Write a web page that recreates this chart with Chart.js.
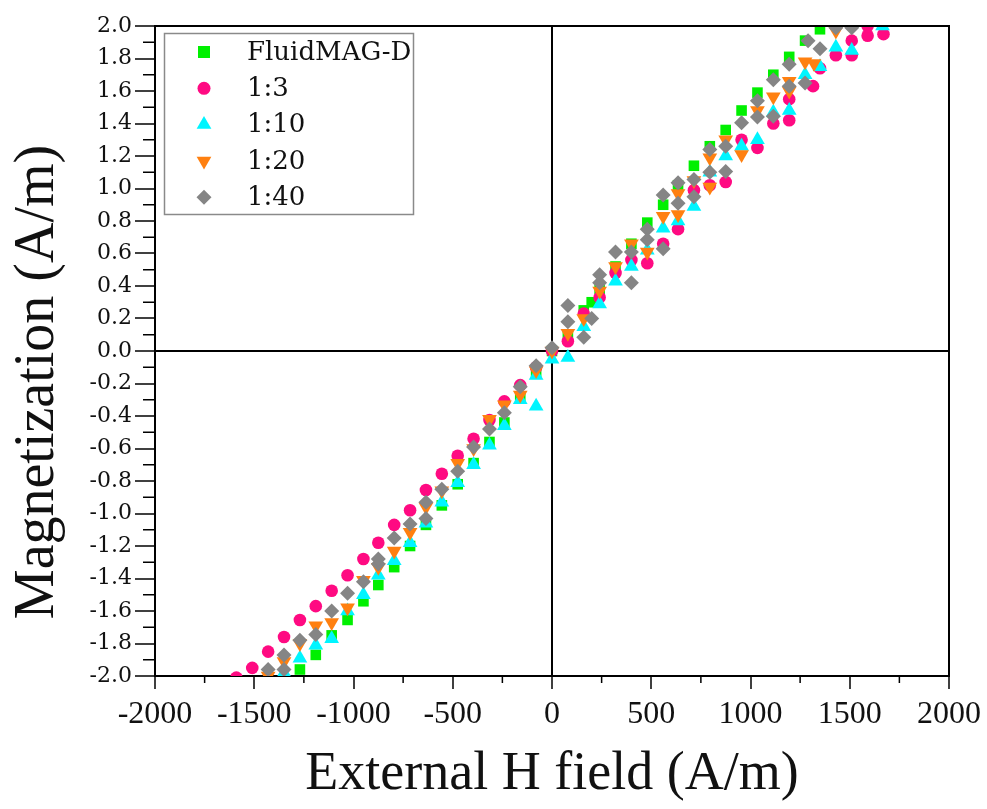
<!DOCTYPE html>
<html>
<head>
    <meta charset="utf-8">
    <title>Magnetization vs External H field</title>
    <script src="https://cdn.jsdelivr.net/npm/chart.js"></script>
    <style>
        html, body { margin: 0; padding: 0; background: #fff; }
        canvas { display: block; }
    </style>
</head>
<body>
    <canvas id="chart" width="987" height="809"></canvas>

    <script>
        // series names (legend order)
        const seriesNames = ['FluidMAG-D', '1:3', '1:10', '1:20', '1:40'];

        // FluidMAG-D
        const fluidH = [-1350, -1270, -1190, -1110, -1030, -950, -875, -795, -715, -635, -555, -475, -395, -315, -240, -160, -80, 0,
            80, 160, 200, 240, 320, 400, 480, 560, 635, 715, 795, 875, 955, 1035, 1115, 1195, 1275, 1350];
        const fluidM = [-2.04, -1.96, -1.87, -1.75, -1.655, -1.54, -1.44, -1.33, -1.20, -1.07, -0.95, -0.82, -0.69, -0.56, -0.44, -0.29, -0.14, 0.0,
            0.10, 0.25, 0.30, 0.38, 0.52, 0.66, 0.79, 0.90, 1.02, 1.14, 1.26, 1.36, 1.48, 1.59, 1.70, 1.81, 1.91, 1.98];

        // 1:3
        const r3H = [-1590, -1510, -1430, -1350, -1270, -1190, -1110, -1030, -950, -875, -795, -715, -635, -555, -475, -395, -315, -240, -160, -80, 0,
            80, 160, 240, 320, 400, 480, 560, 635, 715, 795, 875, 955, 1035, 1115, 1195, 1195, 1315, 1350, 1430, 1510, 1510, 1590, 1590, 1670];
        const r3M = [-2.01, -1.95, -1.85, -1.76, -1.655, -1.57, -1.475, -1.38, -1.28, -1.18, -1.07, -0.98, -0.855, -0.755, -0.645, -0.54, -0.425, -0.31, -0.21, -0.10, 0.0,
            0.06, 0.23, 0.33, 0.48, 0.56, 0.54, 0.66, 0.75, 0.99, 1.02, 1.04, 1.30, 1.25, 1.40, 1.42, 1.55, 1.63, 1.74, 1.82, 1.91, 1.82, 1.94, 2.0, 1.95];

        // 1:10
        const r10H = [-1430, -1350, -1270, -1190, -1110, -1030, -950, -875, -795, -715, -635, -555, -475, -395, -315, -240, -160, -80, -80, 0,
            80, 160, 240, 320, 400, 480, 560, 635, 715, 795, 875, 955, 1035, 1115, 1195, 1275, 1350, 1430, 1510, 1665];
        const r10M = [-2.02, -1.98, -1.89, -1.81, -1.77, -1.60, -1.50, -1.38, -1.29, -1.18, -1.06, -0.93, -0.81, -0.70, -0.58, -0.46, -0.30, -0.34, -0.15, -0.05,
            -0.04, 0.15, 0.29, 0.43, 0.52, 0.62, 0.755, 0.80, 0.89, 1.10, 1.20, 1.26, 1.30, 1.47, 1.48, 1.70, 1.75, 1.87, 1.85, 2.0];

        // 1:20
        const r20H = [-1430, -1350, -1270, -1190, -1110, -1030, -950, -875, -795, -715, -635, -555, -475, -395, -315, -240, -160, -80, 0,
            80, 160, 240, 320, 400, 480, 560, 635, 635, 715, 795, 795, 875, 955, 1035, 1115, 1195, 1195, 1275, 1320, 1430];
        const r20M = [-2.0, -1.91, -1.80, -1.69, -1.67, -1.58, -1.41, -1.33, -1.23, -1.115, -0.96, -0.86, -0.69, -0.60, -0.42, -0.33, -0.27, -0.12, 0.0,
            0.11, 0.20, 0.37, 0.52, 0.66, 0.61, 0.83, 0.97, 0.84, 1.05, 1.19, 1.01, 1.30, 1.21, 1.48, 1.565, 1.60, 1.66, 1.78, 1.77, 1.97];

        // 1:40
        const r40H = [-1430, -1350, -1350, -1270, -1190, -1110, -1030, -950, -875, -875, -795, -715, -635, -635, -555, -475, -395, -315, -240, -160, -80, 0,
            80, 80, 160, 200, 240, 240, 320, 400, 400, 480, 480, 560, 560, 635, 635, 715, 715, 795, 795, 875, 875, 955, 1035, 1035, 1115, 1115,
            1195, 1195, 1275, 1290, 1350, 1430, 1510];
        const r40M = [-1.96, -1.87, -1.96, -1.78, -1.745, -1.60, -1.49, -1.42, -1.31, -1.28, -1.15, -1.065, -0.93, -1.03, -0.85, -0.74, -0.59, -0.48, -0.38, -0.22, -0.09, 0.02,
            0.28, 0.18, 0.085, 0.20, 0.47, 0.42, 0.61, 0.61, 0.42, 0.75, 0.685, 0.63, 0.96, 1.035, 0.91, 1.055, 0.95, 1.24, 1.10, 1.26, 1.105, 1.405, 1.54, 1.44, 1.67, 1.445,
            1.765, 1.63, 1.65, 1.91, 1.86, 1.99, 1.99];

        // axis ticks
        const xTickValues = [-2000, -1500, -1000, -500, 0, 500, 1000, 1500, 2000];
        const xMinorValues = [-1750, -1250, -750, -250, 250, 750, 1250, 1750];
        const yTickValues = [-2.0, -1.8, -1.6, -1.4, -1.2, -1.0, -0.8, -0.6, -0.4, -0.2, 0.0, 0.2, 0.4, 0.6, 0.8, 1.0, 1.2, 1.4, 1.6, 1.8, 2.0];
        const yMinorValues = [-1.9, -1.7, -1.5, -1.3, -1.1, -0.9, -0.7, -0.5, -0.3, -0.1, 0.1, 0.3, 0.5, 0.7, 0.9, 1.1, 1.3, 1.5, 1.7, 1.9];

        function toPoints(hs, ms) {
            return hs.map((h, i) => ({ x: h, y: ms[i] }));
        }

        // frame, minor ticks, y title and the boxed legend
        const decorPlugin = {
            id: 'decor',
            afterDraw(chart) {
                const ctx = chart.ctx;
                const area = chart.chartArea;
                const xs = chart.scales.x;
                const ys = chart.scales.y;
                ctx.save();

                // top and right frame
                ctx.strokeStyle = '#000';
                ctx.lineWidth = 2;
                ctx.beginPath();
                ctx.moveTo(area.left, area.top);
                ctx.lineTo(area.right, area.top);
                ctx.lineTo(area.right, area.bottom);
                ctx.stroke();

                // minor ticks
                ctx.lineWidth = 1.5;
                ctx.beginPath();
                xMinorValues.forEach(v => {
                    const px = xs.getPixelForValue(v);
                    ctx.moveTo(px, area.bottom);
                    ctx.lineTo(px, area.bottom + 7);
                });
                yMinorValues.forEach(v => {
                    const py = ys.getPixelForValue(v);
                    ctx.moveTo(area.left - 12, py);
                    ctx.lineTo(area.left, py);
                });
                ctx.stroke();

                // y axis title
                ctx.save();
                ctx.translate(38, 382);
                ctx.rotate(-Math.PI / 2);
                ctx.fillStyle = '#111';
                ctx.font = '56px "Liberation Serif"';
                ctx.textAlign = 'center';
                ctx.textBaseline = 'middle';
                ctx.fillText('Magnetization (A/m)', 0, 0);
                ctx.restore();

                // legend box
                ctx.strokeStyle = '#8a8a8a';
                ctx.lineWidth = 1.5;
                ctx.strokeRect(164.5, 33.5, 249, 181);
                const legendRadius = [8.5, 6.5, 8.5, 8.5, 7.5];
                chart.data.datasets.forEach((ds, i) => {
                    const y = 52 + i * 36.3;
                    ctx.fillStyle = ds.backgroundColor;
                    Chart.helpers.drawPoint(ctx, {
                        pointStyle: ds.pointStyle,
                        radius: legendRadius[i],
                        rotation: ds.pointRotation || 0,
                        borderWidth: 0
                    }, 204, y);
                    ctx.fillStyle = '#111';
                    ctx.font = '26px "DejaVu Serif"';
                    ctx.textAlign = 'left';
                    ctx.textBaseline = 'middle';
                    ctx.fillText(ds.label, 247, y + 1);
                });
                ctx.restore();
            }
        };

        const datasets = [
            { label: seriesNames[0], data: toPoints(fluidH, fluidM), pointStyle: 'rect', pointRadius: 7.5, backgroundColor: '#00f000', order: 5 },
            { label: seriesNames[1], data: toPoints(r3H, r3M), pointStyle: 'circle', pointRadius: 6.3, backgroundColor: '#ff0a82', order: 4 },
            { label: seriesNames[2], data: toPoints(r10H, r10M), pointStyle: 'triangle', pointRadius: 8.5, backgroundColor: '#00f5ff', order: 3 },
            { label: seriesNames[3], data: toPoints(r20H, r20M), pointStyle: 'triangle', pointRotation: 180, pointRadius: 8.5, backgroundColor: '#ff8010', order: 2 },
            { label: seriesNames[4], data: toPoints(r40H, r40M), pointStyle: 'rectRot', pointRadius: 7.5, backgroundColor: '#858585', order: 1 }
        ];
        datasets.forEach(ds => {
            ds.pointBorderWidth = 0;
            ds.borderWidth = 0;
            ds.pointHoverRadius = ds.pointRadius;
            ds.clip = 0;
        });

        const zeroLine = c => (c.tick && Math.abs(c.tick.value) < 1e-9) ? '#000' : 'rgba(0,0,0,0)';

        const ctx = document.getElementById('chart').getContext('2d');
        const chart = new Chart(ctx, {
            type: 'scatter',
            data: { datasets: datasets },
            options: {
                responsive: false,
                animation: false,
                devicePixelRatio: 1,
                layout: { padding: { left: 0, top: 26, right: 37, bottom: 0 } },
                plugins: {
                    legend: { display: false },
                    tooltip: { enabled: false }
                },
                scales: {
                    x: {
                        type: 'linear',
                        min: -2000,
                        max: 2000,
                        afterBuildTicks: s => { s.ticks = xTickValues.map(v => ({ value: v })); },
                        afterFit: s => { s.height = 133; },
                        ticks: {
                            autoSkip: false,
                            maxRotation: 0,
                            padding: 6,
                            color: '#111',
                            font: { family: 'Liberation Serif', size: 32 },
                            callback: v => String(v)
                        },
                        grid: {
                            color: zeroLine,
                            lineWidth: 2,
                            tickColor: '#000',
                            tickWidth: 1.5,
                            tickLength: 13
                        },
                        border: { display: true, color: '#000', width: 2 },
                        title: {
                            display: true,
                            text: 'External H field (A/m)',
                            color: '#111',
                            font: { family: 'Liberation Serif', size: 54 },
                            padding: { top: 0, bottom: 2 }
                        }
                    },
                    y: {
                        type: 'linear',
                        min: -2,
                        max: 2,
                        afterBuildTicks: s => { s.ticks = yTickValues.map(v => ({ value: v })); },
                        afterFit: s => { s.width = 155; },
                        ticks: {
                            autoSkip: false,
                            padding: 3,
                            color: '#111',
                            font: { family: 'DejaVu Serif', size: 22 },
                            callback: v => Math.abs(v) < 1e-9 ? '0.0' : Number(v).toFixed(1)
                        },
                        grid: {
                            color: zeroLine,
                            lineWidth: 2,
                            tickColor: '#000',
                            tickWidth: 1.5,
                            tickLength: 20
                        },
                        border: { display: true, color: '#000', width: 2 }
                    }
                }
            },
            plugins: [decorPlugin]
        });
    </script>
</body>
</html>
